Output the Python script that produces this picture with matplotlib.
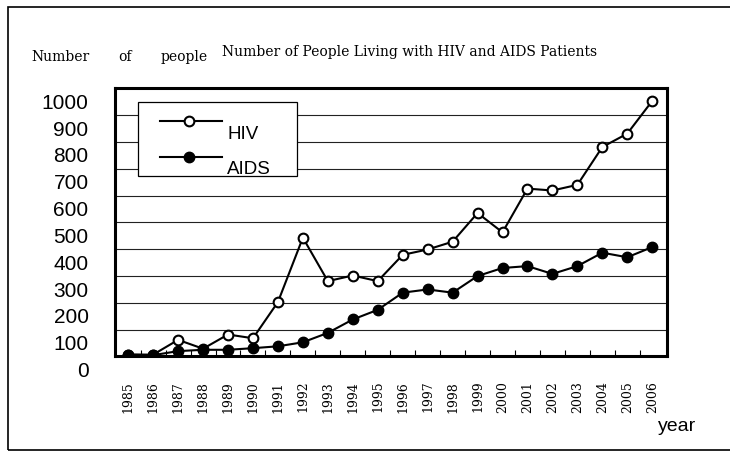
import numpy as np
import matplotlib
matplotlib.use("Agg")
import matplotlib.pyplot as plt
import matplotlib.transforms as mtransforms
from matplotlib.patches import Rectangle

# data
years = list(range(1985, 2007))
hiv = [7, 7, 62, 29, 82, 68, 203, 443, 281, 302, 281, 379, 399, 428,
       535, 463, 626, 619, 640, 781, 831, 953]
aids = [7, 5, 20, 25, 25, 31, 38, 53, 88, 138, 174, 238, 250, 238,
        300, 330, 337, 308, 337, 387, 370, 408]
yticks = list(range(0, 1001, 100))

sans = "Liberation Sans"
serif = "DejaVu Serif"

fig = plt.figure(figsize=(7.3, 4.55), dpi=100)
ax = fig.add_axes([0.1575, 0.2165, 0.7558, 0.5894])

# gridlines
for v in yticks[1:-1]:
    ax.axhline(v, color="#222222", lw=0.8, zorder=1)

# series
ax.plot(years, hiv, color="black", lw=1.5, marker="o", ms=7,
        mfc="white", mec="black", mew=1.5, zorder=3)
ax.plot(years, aids, color="black", lw=1.5, marker="o", ms=7.5,
        mfc="black", mec="black", mew=1, zorder=4)

ax.set_xlim(years[0] - 0.53, years[-1] + 0.58)
ax.set_ylim(0, 1000)

# y ticks: labels sit a bit below their gridlines
ax.set_yticks(yticks)
ax.set_yticklabels([str(v) for v in yticks], fontsize=15, family=sans)
ax.tick_params(axis="y", length=0, pad=19)
shift = mtransforms.ScaledTranslation(0, -13 / 100, fig.dpi_scale_trans)
for lab in ax.get_yticklabels():
    lab.set_transform(lab.get_transform() + shift)

# x ticks
ax.set_xticks(years)
ax.set_xticklabels([str(y) for y in years], rotation=90, fontsize=9,
                   family=serif)
ax.tick_params(axis="x", which="major", length=0, pad=17.5)
ax.set_xticks([y + 0.5 for y in years[:-1]], minor=True)
ax.tick_params(axis="x", which="minor", direction="in", length=4.5,
               width=0.8)

for sp in ax.spines.values():
    sp.set_linewidth(2.2)
    sp.set_zorder(5)

# legend drawn by hand
ax.add_patch(Rectangle((0.0422, 0.673), 0.2872, 0.275, transform=ax.transAxes,
                       facecolor="white", edgecolor="black", lw=0.9, zorder=6))
ax.plot([0.0816, 0.1934], [0.878, 0.878], transform=ax.transAxes,
        color="black", lw=1.5, zorder=7)
ax.plot([0.1347], [0.878], transform=ax.transAxes, marker="o", ms=7,
        mfc="white", mec="black", mew=1.5, zorder=8)
ax.plot([0.0816, 0.1934], [0.745, 0.745], transform=ax.transAxes,
        color="black", lw=1.5, zorder=7)
ax.plot([0.1347], [0.745], transform=ax.transAxes, marker="o", ms=7.5,
        mfc="black", mec="black", zorder=8)
ax.text(0.2034, 0.8285, "HIV", transform=ax.transAxes, fontsize=13.5,
        family=sans, va="center", ha="left", zorder=9)
ax.text(0.2034, 0.699, "AIDS", transform=ax.transAxes, fontsize=13.5,
        family=sans, va="center", ha="left", zorder=9)

# texts around the plot
fig.text(0.3037, 0.8864, "Number of People Living with HIV and AIDS Patients",
         fontsize=10, family=serif, va="center", ha="left")
fig.text(0.0434, 0.8747, "Number", fontsize=10, family=serif, va="center")
fig.text(0.162, 0.8747, "of", fontsize=10, family=serif, va="center")
fig.text(0.220, 0.8747, "people", fontsize=10, family=serif, va="center")
fig.text(0.9014, 0.0622, "year", fontsize=14, family=sans, va="center")

# outer frame
fig.patches.append(Rectangle((0.0114, 0.011), 1.0, 0.974,
                             transform=fig.transFigure, fill=False,
                             edgecolor="black", lw=1.2))

fig.savefig("out.png", dpi=100)
